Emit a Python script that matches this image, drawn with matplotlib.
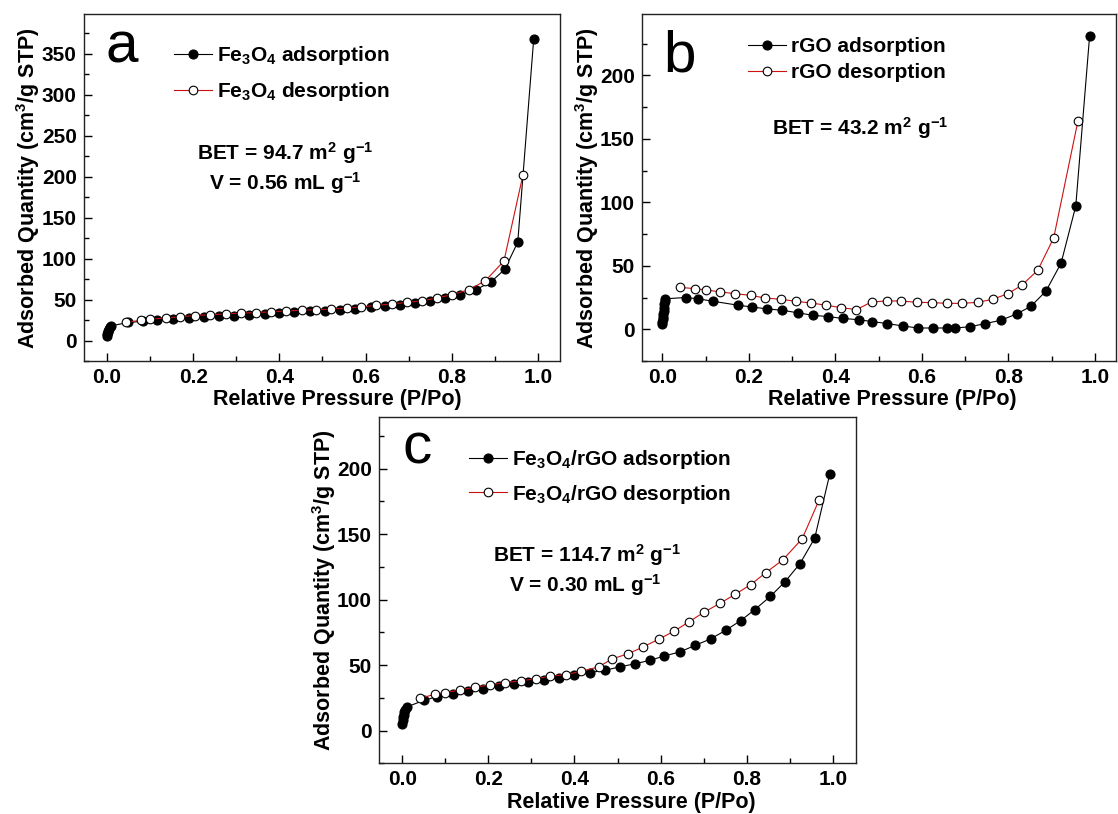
import numpy as np
import matplotlib
matplotlib.use('Agg')
import matplotlib.pyplot as plt
from matplotlib.ticker import MultipleLocator

plt.rcParams['font.family'] = 'Liberation Sans'
plt.rcParams['font.weight'] = 'bold'
plt.rcParams['axes.labelweight'] = 'bold'
plt.rcParams['mathtext.fontset'] = 'custom'
plt.rcParams['mathtext.rm'] = 'Liberation Sans:bold'
plt.rcParams['mathtext.bf'] = 'Liberation Sans:bold'
plt.rcParams['mathtext.it'] = 'Liberation Sans:bold'
plt.rcParams['mathtext.default'] = 'bf'

## (a) Fe3O4
a_ads_x = [0.0, 0.001, 0.002, 0.003, 0.005, 0.007, 0.01, 0.05, 0.083, 0.117, 0.153, 0.19, 0.226,
           0.26, 0.295, 0.33, 0.366, 0.40, 0.435, 0.471, 0.507, 0.541, 0.576, 0.612, 0.646, 0.679,
           0.715, 0.75, 0.785, 0.82, 0.855, 0.89, 0.923, 0.953, 0.99]
a_ads_y = [5, 8, 10, 12, 14, 16, 18, 22, 23.5, 25, 26.5, 27.5, 28.5, 29.5, 30.5, 31.5, 32.5, 33.5,
           34.5, 35.5, 36.5, 37.5, 39, 40.5, 42, 43.5, 45.5, 48, 52, 56, 62, 71, 87, 120, 368]
a_des_x = [0.044, 0.079, 0.10, 0.136, 0.17, 0.205, 0.24, 0.277, 0.312, 0.345, 0.38, 0.415, 0.452,
           0.486, 0.52, 0.556, 0.59, 0.625, 0.661, 0.695, 0.731, 0.766, 0.801, 0.84, 0.878, 0.921, 0.965]
a_des_y = [22.5, 24.5, 26, 27.5, 29, 30.5, 31.5, 32.5, 33.5, 34, 35, 36, 37, 37.5, 38.5, 39.5, 41,
           43, 44.5, 46.5, 48.5, 52, 56, 62, 73, 97, 202]

## (b) rGO
b_ads_x = [0.0, 0.0005, 0.001, 0.0015, 0.002, 0.003, 0.004, 0.005, 0.006, 0.007, 0.054, 0.083,
           0.118, 0.174, 0.208, 0.243, 0.276, 0.313, 0.348, 0.383, 0.418, 0.455, 0.486, 0.52, 0.556,
           0.591, 0.626, 0.659, 0.677, 0.712, 0.747, 0.782, 0.819, 0.852, 0.887, 0.922, 0.956, 0.988]
b_ads_y = [4, 6, 8, 10, 12, 14, 17, 20, 22.5, 24, 25, 24, 22, 19, 17.5, 16, 15, 13, 11, 10, 8.5,
           7.5, 6, 4.5, 2.6, 1, 1, 1, 1, 2, 4.5, 7, 12, 18, 30, 52, 97, 231]
b_des_x = [0.04, 0.075, 0.10, 0.134, 0.169, 0.204, 0.238, 0.274, 0.309, 0.344, 0.379, 0.414, 0.449,
           0.484, 0.519, 0.552, 0.589, 0.623, 0.659, 0.692, 0.729, 0.764, 0.799, 0.831, 0.868, 0.905, 0.961]
b_des_y = [33, 32, 31, 29.4, 28, 26.7, 24.6, 23.6, 22, 20.7, 18.9, 17, 15.5, 21.5, 22.3, 22.3, 21.2,
           21, 20.4, 20.4, 21.2, 23.6, 28, 34.6, 46.4, 72, 164]

## (c) Fe3O4/rGO
c_ads_x = [0.0, 0.001, 0.002, 0.003, 0.005, 0.007, 0.01, 0.05, 0.081, 0.117, 0.152, 0.188, 0.224,
           0.259, 0.293, 0.329, 0.364, 0.40, 0.435, 0.47, 0.505, 0.54, 0.576, 0.609, 0.644, 0.68,
           0.716, 0.751, 0.786, 0.819, 0.855, 0.889, 0.924, 0.958, 0.993]
c_ads_y = [5, 8, 10, 12, 14, 16, 18, 23, 26, 28, 30, 32, 34, 35.4, 37, 38.5, 40.5, 42.8, 44.3, 46,
           48.6, 51, 53.7, 57, 60, 65, 70, 76.5, 84, 92.4, 102.5, 113.7, 127.6, 147, 196]
c_des_x = [0.042, 0.076, 0.10, 0.134, 0.169, 0.204, 0.239, 0.275, 0.31, 0.343, 0.381, 0.416, 0.456,
           0.487, 0.525, 0.559, 0.597, 0.632, 0.667, 0.701, 0.738, 0.773, 0.809, 0.844, 0.884, 0.929, 0.968]
c_des_y = [24.6, 27.8, 29, 31, 33, 35, 36.5, 38, 39.5, 41.5, 42.8, 45.3, 48.6, 54.7, 58.7, 63.8, 70,
           76, 83.3, 90.4, 97.2, 104, 111.4, 120.5, 130.4, 146.6, 176]

x_ticks = [0.0, 0.2, 0.4, 0.6, 0.8, 1.0]
red = '#cc1111'
fs = 15

fig = plt.figure(figsize=(11.18, 8.14), dpi=100)
ax_a = fig.add_axes([0.0748, 0.5565, 0.4261, 0.4259])
ax_b = fig.add_axes([0.5742, 0.5565, 0.424, 0.4259])
ax_c = fig.add_axes([0.339, 0.0623, 0.4267, 0.4254])


def draw_panel(ax, ads_x, ads_y, des_x, des_y, ads_label, des_label, xlim, ylim, y_ticks):
    ax.plot(ads_x, ads_y, color='black', lw=0.8, marker='o', ms=6.5,
            mfc='black', mec='black', mew=0.8, label=ads_label)
    ax.plot(des_x, des_y, color=red, lw=0.8, marker='o', ms=6.2,
            mfc='white', mec='black', mew=0.8, label=des_label)
    ax.set_xlim(*xlim)
    ax.set_ylim(*ylim)
    ax.set_xticks(x_ticks)
    ax.set_xticklabels(['%.1f' % v for v in x_ticks], fontsize=fs, fontweight='bold')
    ax.set_yticks(y_ticks)
    ax.set_yticklabels(['%d' % v for v in y_ticks], fontsize=fs, fontweight='bold')
    ax.xaxis.set_minor_locator(MultipleLocator(0.1))
    ax.yaxis.set_minor_locator(MultipleLocator(25))
    ax.tick_params(which='both', direction='in', width=1)
    ax.tick_params(which='major', length=6, pad=5)
    ax.tick_params(which='minor', length=3.5)
    for sp in ax.spines.values():
        sp.set_linewidth(1.0)
        sp.set_color('#222222')
    ax.set_xlabel('Relative Pressure (P/Po)', fontsize=15.5, fontweight='bold', va='top')
    ax.set_ylabel('Adsorbed Quantity (cm$^3$/g STP)', fontsize=15.5, fontweight='bold')


draw_panel(ax_a, a_ads_x, a_ads_y, a_des_x, a_des_y,
           r'Fe$_3$O$_4$ adsorption', r'Fe$_3$O$_4$ desorption',
           (-0.054, 1.051), (-25, 398), [0, 50, 100, 150, 200, 250, 300, 350])
draw_panel(ax_b, b_ads_x, b_ads_y, b_des_x, b_des_y,
           'rGO adsorption', 'rGO desorption',
           (-0.047, 1.049), (-25, 248), [0, 50, 100, 150, 200])
draw_panel(ax_c, c_ads_x, c_ads_y, c_des_x, c_des_y,
           r'Fe$_3$O$_4$/rGO adsorption', r'Fe$_3$O$_4$/rGO desorption',
           (-0.054, 1.054), (-25, 239.5), [0, 50, 100, 150, 200])

ax_a.xaxis.set_label_coords(0.532, -0.08)
ax_b.xaxis.set_label_coords(0.529, -0.08)
ax_c.xaxis.set_label_coords(0.528, -0.083)
ax_a.yaxis.set_label_coords(-0.088, 0.5)
ax_b.yaxis.set_label_coords(-0.086, 0.5)
ax_c.yaxis.set_label_coords(-0.085, 0.5)

# legends
leg_pos = {ax_a: (0.189, 0.913, 0.6), ax_b: (0.223, 0.935, 0.35), ax_c: (0.188, 0.91, 0.55)}
for ax, (lx, ly, sp) in leg_pos.items():
    ax.legend(loc='upper left', bbox_to_anchor=(lx, ly), frameon=False,
              handlelength=1.85, handletextpad=0.25, borderpad=0, borderaxespad=0,
              labelspacing=sp, prop={'weight': 'bold', 'size': fs})

# panel letters
ax_a.text(0.045, 0.86, 'a', transform=ax_a.transAxes, fontsize=42, fontweight='normal')
ax_b.text(0.046, 0.836, 'b', transform=ax_b.transAxes, fontsize=42, fontweight='normal')
ax_c.text(0.05, 0.867, 'c', transform=ax_c.transAxes, fontsize=42, fontweight='normal')

# BET / pore volume notes
ax_a.text(0.424, 0.599, r'BET = 94.7 m$^2$ g$^{-1}$', transform=ax_a.transAxes,
          fontsize=fs, ha='center', va='center')
ax_a.text(0.424, 0.512, r'V = 0.56 mL g$^{-1}$', transform=ax_a.transAxes,
          fontsize=fs, ha='center', va='center')
ax_b.text(0.461, 0.671, r'BET = 43.2 m$^2$ g$^{-1}$', transform=ax_b.transAxes,
          fontsize=fs, ha='center', va='center')
ax_c.text(0.435, 0.601, r'BET = 114.7 m$^2$ g$^{-1}$', transform=ax_c.transAxes,
          fontsize=fs, ha='center', va='center')
ax_c.text(0.433, 0.515, r'V = 0.30 mL g$^{-1}$', transform=ax_c.transAxes,
          fontsize=fs, ha='center', va='center')

fig.savefig('out.png', dpi=100)
